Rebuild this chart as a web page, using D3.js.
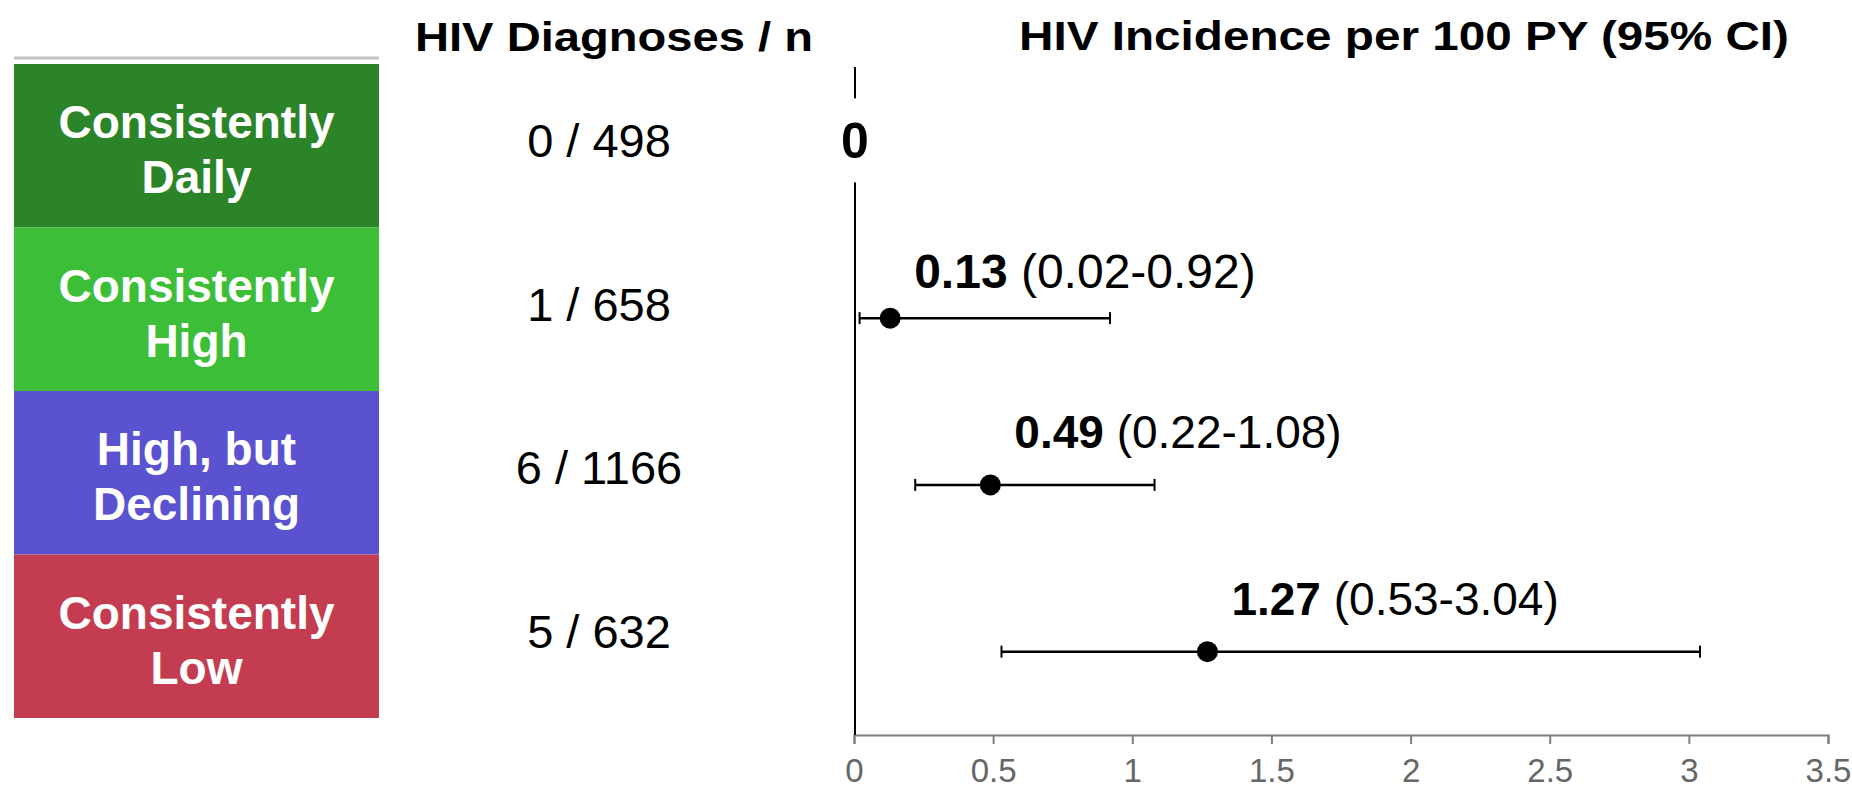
<!DOCTYPE html>
<html>
<head>
<meta charset="utf-8">
<script src="https://cdn.jsdelivr.net/npm/d3@7"></script>
<style>
  html, body { margin: 0; padding: 0; background: #fff; }
  svg { display: block; font-family: "Liberation Sans", Arial, sans-serif; }
</style>
</head>
<body>
<svg id="Mainback"></svg>
<script>
// data
var GROUPS = ["Consistently Daily", "Consistently High", "High, but Declining", "Consistently Low"];
var GROUP_LINES = [["Consistently", "Daily"], ["Consistently", "High"], ["High, but", "Declining"], ["Consistently", "Low"]];
var GROUP_COLORS = ["#2c8429", "#3cbe38", "#5a52ce", "#c43c50"];
var DIAGNOSES = [0, 1, 6, 5];
var N = [498, 658, 1166, 632];
var INCIDENCE = [0, 0.13, 0.49, 1.27];
var CI_LOW = [null, 0.02, 0.22, 0.53];
var CI_HIGH = [null, 0.92, 1.08, 3.04];
var X_TICKS = [0, 0.5, 1, 1.5, 2, 2.5, 3, 3.5];

var w = 1852;
var h = 788;
var fmt = d3.format(".2f");

var ROWS = GROUPS.map(function(g, i){
  return {group: g, lines: GROUP_LINES[i], color: GROUP_COLORS[i], dx: DIAGNOSES[i], n: N[i],
          est: INCIDENCE[i], lo: CI_LOW[i], hi: CI_HIGH[i]};
});

SVG = d3.select("svg#Mainback")
        .attr("width", w)
        .attr("height", h);

// scales
var yBox = d3.scaleBand().domain(GROUPS).range([64, 718]).paddingInner(0);
var yPlot = d3.scaleBand().domain(GROUPS).range([68, 735]).paddingInner(0);
var x = d3.scaleLinear().domain([0, 3.5]).range([854, 1828]);

// column titles
SVG.append("text")
   .attr("x", 614).attr("y", 51)
   .attr("text-anchor", "middle")
   .attr("font-size", 41).attr("font-weight", "bold")
   .attr("textLength", 398).attr("lengthAdjust", "spacingAndGlyphs")
   .text("HIV Diagnoses / n");
SVG.append("text")
   .attr("x", 1404).attr("y", 50)
   .attr("text-anchor", "middle")
   .attr("font-size", 41).attr("font-weight", "bold")
   .attr("textLength", 770).attr("lengthAdjust", "spacingAndGlyphs")
   .text("HIV Incidence per 100 PY (95% CI)");

// grey rule over the group boxes
SVG.append("rect")
   .attr("x", 14).attr("y", 56.5)
   .attr("width", 365).attr("height", 3)
   .attr("fill", "#c3c3c3");

// group boxes
var BOXES = SVG.append("g").attr("class", "boxes")
   .selectAll("g").data(ROWS).enter().append("g");
BOXES.append("rect")
   .attr("x", 14)
   .attr("y", function(d){ return yBox(d.group); })
   .attr("width", 365)
   .attr("height", yBox.bandwidth())
   .attr("fill", function(d){ return d.color; });
BOXES.selectAll("text.lbl")
   .data(function(d){ return d.lines.map(function(l, k){ return {t: l, k: k, top: yBox(d.group)}; }); })
   .enter().append("text")
   .attr("class", "lbl")
   .attr("x", 196.5)
   .attr("y", function(d){ return d.top + 74 + d.k * 55; })
   .attr("text-anchor", "middle")
   .attr("font-size", 46).attr("font-weight", "bold")
   .attr("fill", "#fff")
   .text(function(d){ return d.t; });

// diagnoses / n column
SVG.append("g").selectAll("text")
   .data(ROWS).enter().append("text")
   .attr("x", 599)
   .attr("y", function(d){ return yBox(d.group) + yBox.bandwidth() / 2 + 11.5; })
   .attr("text-anchor", "middle")
   .attr("font-size", 47)
   .attr("fill", "#000")
   .text(function(d){ return d.dx + " / " + d.n; });

// x axis
var AXIS = SVG.append("g")
   .attr("transform", "translate(0,735)")
   .call(d3.axisBottom(x).tickValues(X_TICKS).tickSize(9).tickPadding(15)
           .tickFormat(function(v){ return String(v); }));
AXIS.attr("font-size", 33).attr("font-family", "'Liberation Sans', Arial, sans-serif");
AXIS.select(".domain").attr("stroke", "#7f7f7f").attr("stroke-width", 2);
AXIS.selectAll(".tick line").attr("stroke", "#7f7f7f").attr("stroke-width", 2);
AXIS.selectAll(".tick text")
    .attr("font-size", 33).attr("fill", "#666");

// zero line
SVG.append("line")
   .attr("x1", x(0) + 1).attr("x2", x(0) + 1)
   .attr("y1", 67).attr("y2", 735)
   .attr("stroke", "#000").attr("stroke-width", 2);

// rows with no CI: bold value on the zero line
var ZERO = ROWS.filter(function(d){ return d.lo === null; });
SVG.append("g").selectAll("rect")
   .data(ZERO).enter().append("rect")
   .attr("x", function(d){ return x(d.est) - 20; })
   .attr("y", function(d){ return yPlot(d.group) + yPlot.bandwidth() / 2 - 53; })
   .attr("width", 40).attr("height", 84)
   .attr("fill", "#fff");
SVG.append("g").selectAll("text")
   .data(ZERO).enter().append("text")
   .attr("x", function(d){ return x(d.est) + 1; })
   .attr("y", function(d){ return yPlot(d.group) + yPlot.bandwidth() / 2 + 7; })
   .attr("text-anchor", "middle")
   .attr("font-size", 50).attr("font-weight", "bold")
   .text(function(d){ return fmt(d.est) === "0.00" ? "0" : fmt(d.est); });

// estimates with CI
var CI = ROWS.filter(function(d){ return d.lo !== null; });
var ROWG = SVG.append("g").selectAll("g")
   .data(CI).enter().append("g")
   .attr("transform", function(d){ return "translate(0," + (yPlot(d.group) + yPlot.bandwidth() / 2) + ")"; });
ROWG.append("line")
   .attr("x1", function(d){ return x(d.lo); })
   .attr("x2", function(d){ return x(d.hi); })
   .attr("stroke", "#000").attr("stroke-width", 2.5);
ROWG.selectAll("line.cap")
   .data(function(d){ return [d.lo, d.hi]; })
   .enter().append("line")
   .attr("class", "cap")
   .attr("x1", function(v){ return x(v); })
   .attr("x2", function(v){ return x(v); })
   .attr("y1", -6).attr("y2", 6)
   .attr("stroke", "#000").attr("stroke-width", 2);
ROWG.append("circle")
   .attr("cx", function(d){ return x(d.est); })
   .attr("r", 10.5)
   .attr("fill", "#000");
var LBL = ROWG.append("text")
   .attr("x", function(d){ return x(d.est) + 24; })
   .attr("y", function(d, i){ return i === 0 ? -30 : -37; })
   .attr("font-size", function(d, i){ return i === 0 ? 48 : 46; })
   .attr("fill", "#000");
LBL.append("tspan").attr("font-weight", "bold").text(function(d){ return fmt(d.est); });
LBL.append("tspan").text(function(d){ return " (" + fmt(d.lo) + "-" + fmt(d.hi) + ")"; });
</script>
</body>
</html>
